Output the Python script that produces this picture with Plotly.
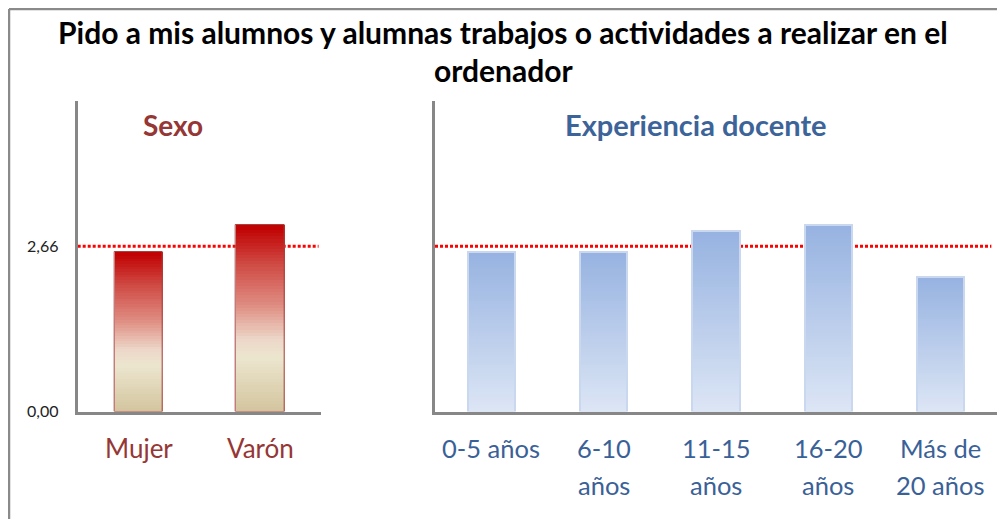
import plotly.graph_objects as go
from plotly.colors import sample_colorscale

title_lines = ["Pido a mis alumnos y alumnas trabajos o actividades a realizar en el", "ordenador"]
mean_value = 2.66
mean_label = "2,66"

sexo_title = "Sexo"
sexo_cats = ["Mujer", "Varón"]
sexo_vals = [2.57, 3.00]

exp_title = "Experiencia docente"
exp_cats = ["0-5 años", "6-10 años", "11-15 años", "16-20 años", "Más de 20 años"]
exp_labels = [["0-5 años"], ["6-10", "años"], ["11-15", "años"], ["16-20", "años"], ["Más de", "20 años"]]
exp_vals = [2.57, 2.57, 2.90, 3.00, 2.16]

RED = "#953735"
BLUE = "#3a6197"
AXIS = "#878787"
FONT = "Lato"
OFF = 8  # page body margin
W, H = 1005 - OFF, 519 - OFF

red_scale = [[0.0, "#d2c39c"], [0.3, "#ece6cf"], [0.4, "#ecd6c8"], [0.58, "#df8d82"],
             [0.8, "#cf4a44"], [1.0, "#c00000"]]
blue_scale = [[0.0, "#dde6f5"], [1.0, "#97b3e1"]]

N = 60


def px_x(p):
    return (p - OFF) / W


def px_y(p):
    return 1 - (p - OFF) / H


fig = go.Figure()


def gradient_bars(cats, vals, scale, xaxis, width, line_color, line_w):
    cols = sample_colorscale(scale, [(k + 0.5) / N for k in range(N)])
    yaxis = "y" if xaxis == "x" else "y2"
    for k in range(N):
        lo = max(k - 0.6, 0) / N
        hi = (k + 1) / N
        fig.add_trace(go.Bar(
            x=cats, y=[v * (hi - lo) for v in vals], base=[v * lo for v in vals],
            width=width, marker=dict(color=cols[k], line=dict(width=0)),
            xaxis=xaxis, yaxis=yaxis, showlegend=False, hoverinfo="skip"))
    fig.add_trace(go.Bar(
        x=cats, y=vals, width=width,
        marker=dict(color="rgba(0,0,0,0)", line=dict(color=line_color, width=line_w)),
        xaxis=xaxis, yaxis=yaxis, showlegend=False, hoverinfo="skip"))


gradient_bars(sexo_cats, sexo_vals, red_scale, "x", 0.395, "#a8423d", 1)
gradient_bars(exp_cats, exp_vals, blue_scale, "x2", 0.42, "#c9d8ef", 2)

dom_y = [px_y(411.5), px_y(101)]
fig.update_layout(
    width=W, height=H, barmode="overlay", bargap=0,
    margin=dict(l=0, r=0, t=0, b=0),
    paper_bgcolor="white", plot_bgcolor="white",
    font=dict(family=FONT, color="#222222"),
    xaxis=dict(domain=[px_x(77.7), px_x(321)], range=[-0.5, 1.5], showticklabels=False,
               showline=True, linecolor=AXIS, linewidth=3, showgrid=False, zeroline=False,
               ticks="", automargin=False),
    yaxis=dict(domain=dom_y, range=[0, 5], tickvals=[0, mean_value], ticktext=["0,00", mean_label],
               showline=True, linecolor=AXIS, linewidth=3, showgrid=False, zeroline=False,
               ticks="outside", ticklen=13, tickcolor="rgba(0,0,0,0)",
               tickfont=dict(size=16, color="#222222"), automargin=False),
    xaxis2=dict(domain=[px_x(435), px_x(997)], range=[-0.5, 4.5], showticklabels=False,
                showline=True, linecolor=AXIS, linewidth=3, showgrid=False, zeroline=False,
                ticks="", anchor="y2", automargin=False),
    yaxis2=dict(domain=dom_y, range=[0, 5], showticklabels=False, anchor="x2",
                showline=True, linecolor=AXIS, linewidth=3, showgrid=False, zeroline=False,
                ticks="", automargin=False),
)

# mean reference lines
for xr, yr in [("x domain", "y"), ("x2 domain", "y2")]:
    fig.add_shape(type="line", xref=xr, yref=yr, x0=0, x1=0.99, y0=mean_value, y1=mean_value,
                  line=dict(color="#ff0000", width=3, dash="3px,2px"), layer="below")

# outer frame (left and top edges)
fig.add_shape(type="line", xref="paper", yref="paper", x0=px_x(9), x1=px_x(9), y0=0, y1=px_y(9),
              line=dict(color="#8a8a8a", width=2.5))
fig.add_shape(type="line", xref="paper", yref="paper", x0=px_x(9), x1=1, y0=px_y(9), y1=px_y(9),
              line=dict(color="#8a8a8a", width=2.5))

# title
for text, yc in zip(title_lines, [32, 70]):
    fig.add_annotation(text="<b>%s</b>" % text, xref="paper", yref="paper", x=px_x(503), y=px_y(yc),
                       showarrow=False, xanchor="center", yanchor="middle",
                       font=dict(size=30, color="#000000", family=FONT))

# panel titles
fig.add_annotation(text="<b>%s</b>" % sexo_title, xref="paper", yref="paper", x=px_x(173), y=px_y(125),
                   showarrow=False, xanchor="center", yanchor="middle",
                   font=dict(size=28, color=RED, family=FONT))
fig.add_annotation(text="<b>%s</b>" % exp_title, xref="paper", yref="paper", x=px_x(696), y=px_y(125),
                   showarrow=False, xanchor="center", yanchor="middle",
                   font=dict(size=29, color="#3c6499", family=FONT))

# category labels
for c in sexo_cats:
    fig.add_annotation(text=c, xref="x", yref="paper", x=c, y=px_y(448), showarrow=False,
                       xanchor="center", yanchor="middle", font=dict(size=26, color=RED, family=FONT))
for c, lines in zip(exp_cats, exp_labels):
    for i, ln in enumerate(lines):
        fig.add_annotation(text=ln, xref="x2", yref="paper", x=c, y=px_y(448 + 37 * i), showarrow=False,
                           xanchor="center", yanchor="middle",
                           font=dict(size=25.5, color=BLUE, family=FONT))

fig.write_html("out.html")
